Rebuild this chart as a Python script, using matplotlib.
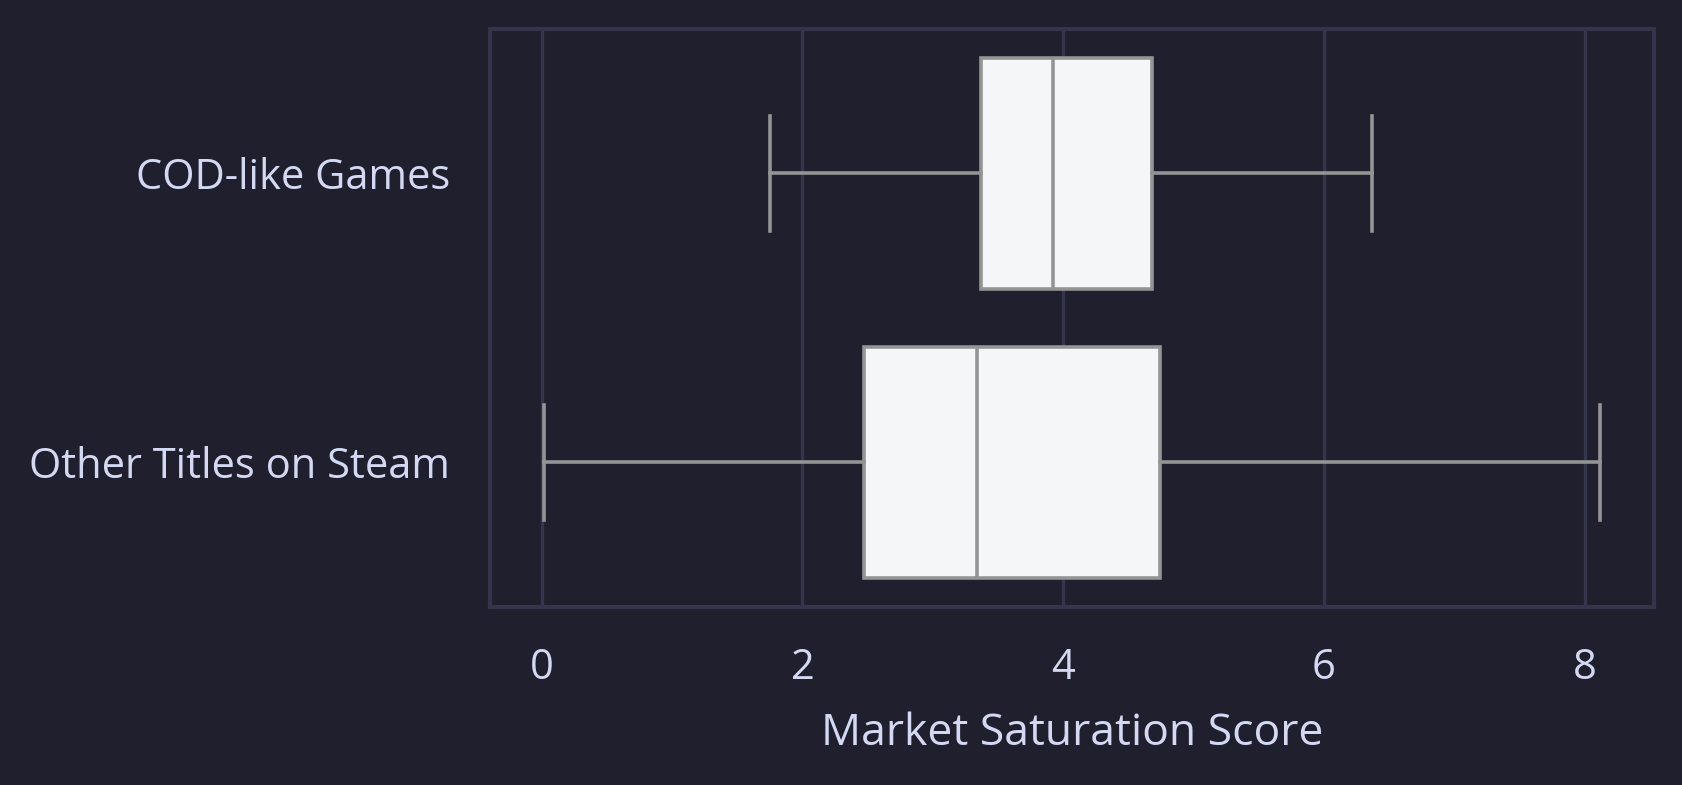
import matplotlib
matplotlib.use("Agg")
import matplotlib.pyplot as plt
from matplotlib import font_manager

# ── data ──────────────────────────────────────────────────────────────────────
CATEGORIES = ["COD-like Games", "Other Titles on Steam"]
WHISK_LO   = [1.75, 0.02]
Q1         = [3.37, 2.47]
MEDIAN     = [3.92, 3.34]
Q3         = [4.68, 4.74]
WHISK_HI   = [6.37, 8.12]
X_TICKS    = [0, 2, 4, 6, 8]

# ── style ─────────────────────────────────────────────────────────────────────
BG        = "#1f1f2e"
GRID      = "#34344a"
TEXT      = "#d4d8f2"
BOX_FACE  = "#f5f6f8"
BOX_EDGE  = "#949494"

names = {f.name for f in font_manager.fontManager.ttflist}
family = [f for f in ["Liberation Sans Narrow", "Open Sans", "DejaVu Sans"] if f in names]
plt.rcParams["font.family"] = family

fig = plt.figure(figsize=(16.82, 7.85), dpi=100, facecolor=BG)
ax = fig.add_axes([0.2915, 0.227, 0.692, 0.736], facecolor=BG)

stats = [
    {"label": c, "whislo": lo, "q1": a, "med": m, "q3": b, "whishi": hi, "fliers": []}
    for c, lo, a, m, b, hi in zip(CATEGORIES, WHISK_LO, Q1, MEDIAN, Q3, WHISK_HI)
]
ax.bxp(
    stats,
    positions=range(len(CATEGORIES)),
    vert=False,
    widths=0.8,
    patch_artist=True,
    showfliers=False,
    boxprops=dict(facecolor=BOX_FACE, edgecolor=BOX_EDGE, linewidth=2.6),
    medianprops=dict(color=BOX_EDGE, linewidth=2.6),
    whiskerprops=dict(color=BOX_EDGE, linewidth=2.6),
    capprops=dict(color=BOX_EDGE, linewidth=2.6),
    capwidths=0.4,
    zorder=3,
)

ax.set_ylim(1.5, -0.5)
ax.set_xlim(-0.395, 8.535)
ax.set_xticks(X_TICKS)
ax.set_xticklabels([str(t) for t in X_TICKS])
ax.set_yticks(range(len(CATEGORIES)))
ax.set_yticklabels(CATEGORIES)

ax.grid(axis="x", color=GRID, linewidth=2.4, zorder=0)
ax.set_axisbelow(True)
for s in ax.spines.values():
    s.set_color(GRID)
    s.set_linewidth(3)

ax.tick_params(axis="both", length=0, labelsize=30, labelcolor=TEXT)
ax.tick_params(axis="x", pad=29)
ax.tick_params(axis="y", pad=29)
ax.set_xlabel("Market Saturation Score", fontsize=32, color=TEXT, labelpad=16)

fig.savefig("out.png", dpi=100, facecolor=BG)
